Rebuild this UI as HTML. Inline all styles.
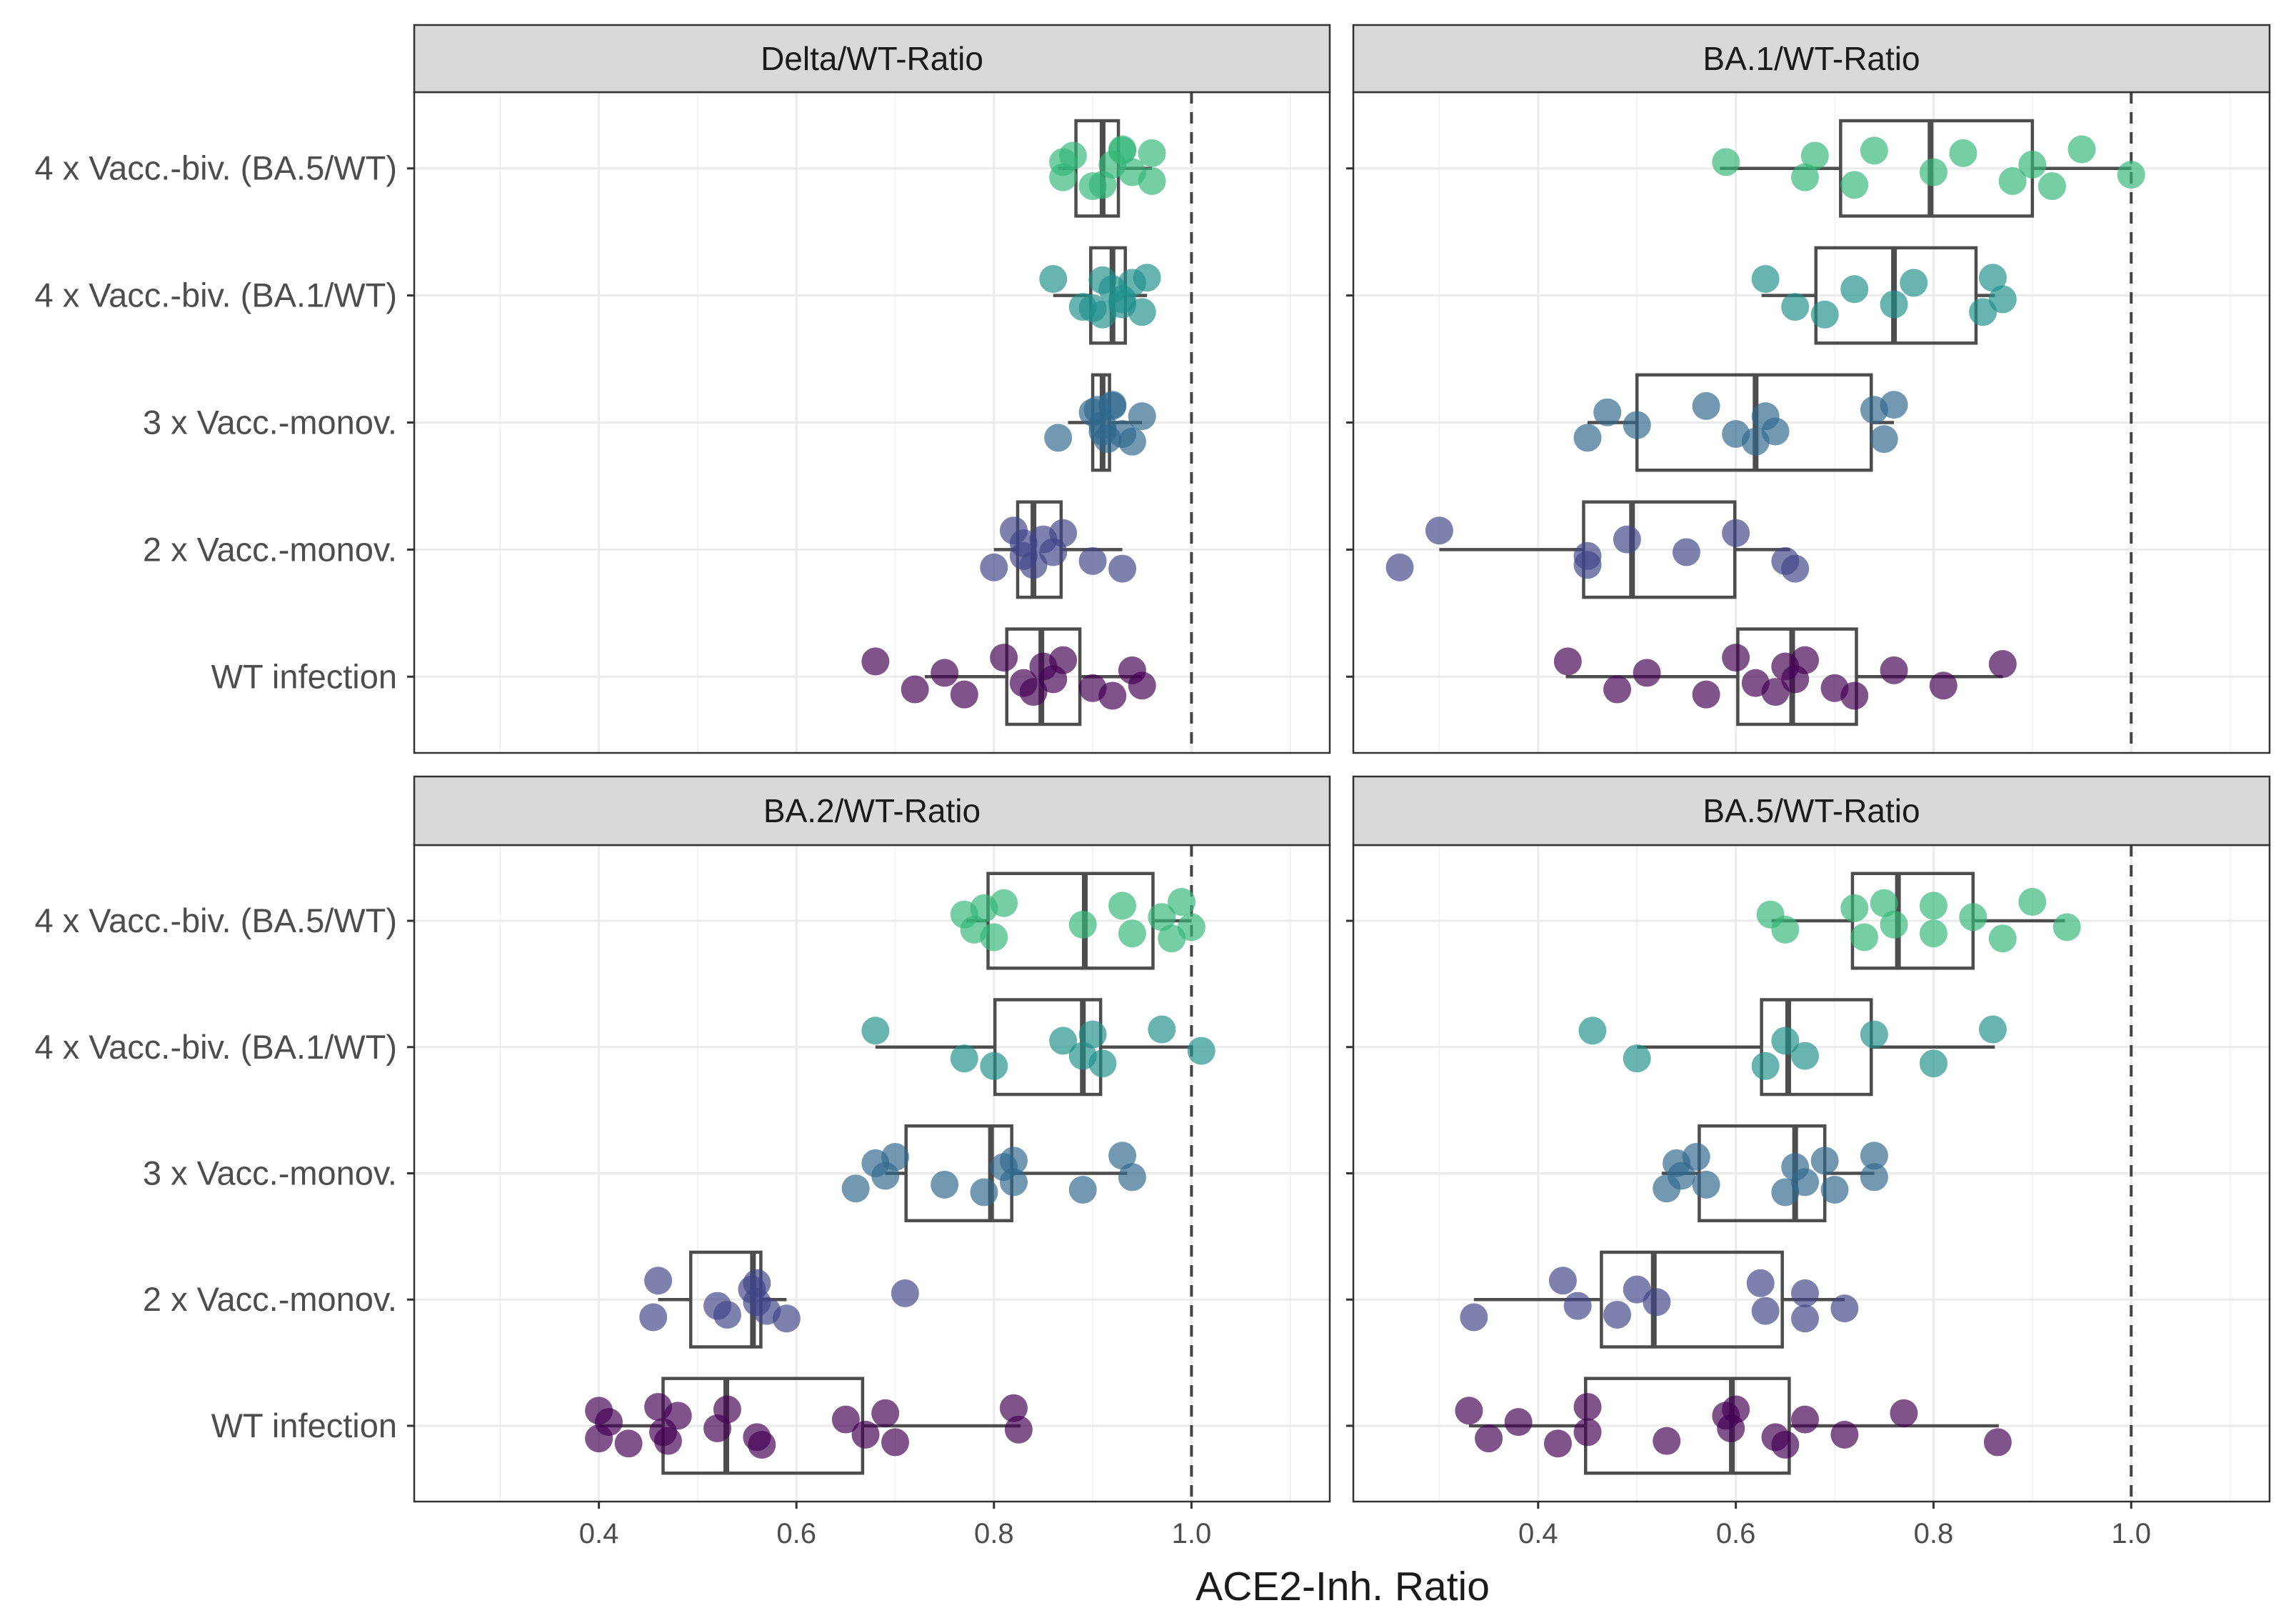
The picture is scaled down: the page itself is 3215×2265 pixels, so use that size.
<!DOCTYPE html>
<html><head><meta charset="utf-8"><style>
html,body{margin:0;padding:0;background:#fff}
svg{display:block;font-family:"Liberation Sans",sans-serif}
</style></head><body>
<svg id="chart" width="3215" height="2265" viewBox="0 0 3215 2265"></svg>
<script>
const groups = ["WT infection","2 x Vacc.-monov.","3 x Vacc.-monov.","4 x Vacc.-biv. (BA.1/WT)","4 x Vacc.-biv. (BA.5/WT)"];
const groupColors = ["#440154","#414487","#31688E","#21908C","#35B779"];
const panelTitles = ["Delta/WT-Ratio","BA.1/WT-Ratio","BA.2/WT-Ratio","BA.5/WT-Ratio"];
const xTicks = [0.4,0.6,0.8,1.0];
const xTickLabels = ["0.4","0.6","0.8","1.0"];
const xMinor = [0.3,0.5,0.7,0.9,1.1];
const deltaPts = [
 [0.68,0.72,0.75,0.77,0.81,0.83,0.84,0.85,0.86,0.87,0.90,0.92,0.94,0.95],
 [0.80,0.82,0.83,0.84,0.85,0.86,0.87,0.90,0.93,0.83],
 [0.865,0.90,0.91,0.92,0.93,0.94,0.95,0.91,0.905,0.915,0.92],
 [0.86,0.89,0.91,0.92,0.93,0.94,0.95,0.955,0.93,0.91,0.90],
 [0.87,0.87,0.88,0.91,0.93,0.94,0.96,0.96,0.92,0.90,0.93]];
const ba1Pts = [
 [0.43,0.48,0.51,0.57,0.60,0.62,0.64,0.65,0.66,0.67,0.70,0.72,0.76,0.81,0.87],
 [0.26,0.30,0.45,0.45,0.49,0.55,0.60,0.65,0.66],
 [0.45,0.47,0.50,0.57,0.60,0.62,0.63,0.64,0.74,0.75,0.76],
 [0.63,0.66,0.69,0.72,0.76,0.78,0.85,0.86,0.87],
 [0.59,0.67,0.68,0.72,0.74,0.80,0.83,0.88,0.90,0.92,0.95,1.0]];
const ba2Pts = [
 [0.40,0.40,0.41,0.43,0.46,0.465,0.47,0.48,0.52,0.53,0.56,0.565,0.65,0.67,0.69,0.70,0.82,0.825],
 [0.455,0.46,0.52,0.53,0.555,0.56,0.56,0.57,0.59,0.71],
 [0.66,0.68,0.69,0.70,0.75,0.79,0.81,0.82,0.82,0.89,0.93,0.94],
 [0.68,0.77,0.80,0.87,0.89,0.90,0.91,0.97,1.01],
 [0.77,0.78,0.79,0.80,0.81,0.89,0.93,0.94,0.97,0.98,0.99,1.0]];
const ba5Pts = [
 [0.33,0.35,0.38,0.42,0.45,0.45,0.53,0.59,0.595,0.60,0.64,0.65,0.67,0.71,0.77,0.865],
 [0.335,0.425,0.44,0.48,0.50,0.52,0.625,0.63,0.67,0.67,0.71],
 [0.53,0.54,0.545,0.56,0.57,0.65,0.66,0.67,0.69,0.70,0.74,0.74],
 [0.455,0.50,0.63,0.65,0.67,0.74,0.80,0.86],
 [0.635,0.65,0.72,0.73,0.75,0.76,0.80,0.80,0.84,0.87,0.90,0.935]];
const deltaBox = [[0.73,0.813,0.848,0.887,0.95],[0.80,0.824,0.84,0.868,0.93],[0.875,0.90,0.91,0.917,0.95],[0.86,0.898,0.92,0.933,0.955],[0.865,0.883,0.91,0.926,0.96]];
const ba1Box = [[0.428,0.602,0.657,0.722,0.87],[0.30,0.446,0.495,0.599,0.655],[0.45,0.50,0.62,0.737,0.76],[0.626,0.681,0.76,0.843,0.862],[0.584,0.706,0.797,0.90,1.0]];
const ba2Box = [[0.40,0.465,0.529,0.667,0.827],[0.46,0.493,0.556,0.564,0.59],[0.69,0.711,0.797,0.818,0.935],[0.68,0.801,0.89,0.908,1.0],[0.772,0.794,0.892,0.961,1.0]];
const ba5Box = [[0.33,0.448,0.596,0.654,0.866],[0.335,0.464,0.517,0.647,0.71],[0.525,0.563,0.66,0.69,0.74],[0.50,0.626,0.653,0.737,0.862],[0.636,0.718,0.764,0.84,0.933]];
const jitter = [-0.12,0.1,-0.03,0.14,-0.15,0.05,0.12,-0.08,0.02,-0.13,0.09,0.15,-0.05,0.07,-0.1,0.13,-0.14,0.03];

const NS="http://www.w3.org/2000/svg";
const svg=document.getElementById('chart');
function mk(tag,attrs,parent){const e=document.createElementNS(NS,tag);for(const k in attrs)e.setAttribute(k,attrs[k]);(parent||svg).appendChild(e);return e;}

const panels=[
 {x0:580,x1:1862,top:35,stripB:129,bot:1054,pts:deltaPts,box:deltaBox,ylab:true},
 {x0:1895,x1:3178,top:35,stripB:129,bot:1054,pts:ba1Pts,box:ba1Box,ylab:false},
 {x0:580,x1:1862,top:1087,stripB:1183,bot:2102,pts:ba2Pts,box:ba2Box,ylab:true},
 {x0:1895,x1:3178,top:1087,stripB:1183,bot:2102,pts:ba5Pts,box:ba5Box,ylab:false}];
const vMin=0.213,vMax=1.14;

panels.forEach((p,pi)=>{
 const g=mk('g',{});
 
 
 const xs=v=>p.x0+(v-vMin)/(vMax-vMin)*(p.x1-p.x0);
 const rowSp=(p.bot-p.stripB)/5.2;
 const ys=i=>p.bot-rowSp*(0.6+i);
 xMinor.forEach(v=>{const l=mk('line',{x1:xs(v),x2:xs(v),y1:p.stripB,y2:p.bot,stroke:'#f0f0f0','stroke-width':1.5},g);});
 xTicks.forEach(v=>{const l=mk('line',{x1:xs(v),x2:xs(v),y1:p.stripB,y2:p.bot,stroke:'#ebebeb','stroke-width':3},g);});
 groups.forEach((gn,i)=>{const l=mk('line',{x1:p.x0,x2:p.x1,y1:ys(i),y2:ys(i),stroke:'#ebebeb','stroke-width':3},g);});
 const ref=mk('line',{x1:xs(1),x2:xs(1),y1:p.stripB,y2:p.bot,stroke:'#444','stroke-width':4,'stroke-dasharray':'16 12'},g);
 
 p.box.forEach((b,i)=>{
  const y=ys(i),h=rowSp*0.75;
  const bg=mk('g',{},g);
  
  mk('line',{x1:xs(b[0]),x2:xs(b[1]),y1:y,y2:y,stroke:'#4d4d4d','stroke-width':4.5},bg);
  mk('line',{x1:xs(b[3]),x2:xs(b[4]),y1:y,y2:y,stroke:'#4d4d4d','stroke-width':4.5},bg);
  mk('rect',{x:xs(b[1]),y:y-h/2,width:xs(b[3])-xs(b[1]),height:h,fill:'none',stroke:'#4d4d4d','stroke-width':4.5},bg);
  mk('line',{x1:xs(b[2]),x2:xs(b[2]),y1:y-h/2,y2:y+h/2,stroke:'#4d4d4d','stroke-width':8},bg);
 });
 p.pts.forEach((arr,i)=>{
  arr.forEach((v,k)=>{
   const c=mk('circle',{cx:xs(v),cy:ys(i)+jitter[(k+i*3)%jitter.length]*rowSp,r:19.5,fill:groupColors[i],'fill-opacity':0.68},g);
   
   
  });
 });
 const br=mk('rect',{x:p.x0,y:p.stripB,width:p.x1-p.x0,height:p.bot-p.stripB,fill:'none',stroke:'#333','stroke-width':2.5},g);
 
 const st=mk('rect',{x:p.x0,y:p.top,width:p.x1-p.x0,height:p.stripB-p.top,fill:'#d9d9d9',stroke:'#333','stroke-width':2.5},g);
 
 const stt=mk('text',{x:(p.x0+p.x1)/2,y:(p.top+p.stripB)/2+16,'text-anchor':'middle','font-size':46,fill:'#1a1a1a'},g);
 stt.textContent=panelTitles[pi];
 
 groups.forEach((gn,i)=>{
  mk('line',{x1:p.x0-10,x2:p.x0,y1:ys(i),y2:ys(i),stroke:'#333','stroke-width':3},g);
  if(p.ylab){const t=mk('text',{x:p.x0-24,y:ys(i)+16,'text-anchor':'end','font-size':47,fill:'#4d4d4d'},g);t.textContent=gn;
   }
 });
 if(pi>=2){xTicks.forEach((v,k)=>{
  mk('line',{x1:xs(v),x2:xs(v),y1:p.bot,y2:p.bot+10,stroke:'#333','stroke-width':3},g);
  const t=mk('text',{x:xs(v),y:p.bot+58,'text-anchor':'middle','font-size':40,fill:'#4d4d4d'},g);t.textContent=xTickLabels[k];
  
 });}
});
const xt=mk('text',{x:1880,y:2240,'text-anchor':'middle','font-size':57,fill:'#1a1a1a'});
xt.textContent='ACE2-Inh. Ratio';


</script>
</body></html>
